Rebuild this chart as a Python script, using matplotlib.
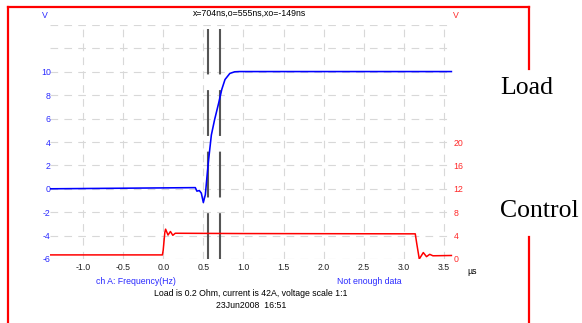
import numpy as np
import matplotlib as mpl
import matplotlib.pyplot as plt
from matplotlib.lines import Line2D

mpl.rcParams['font.family'] = ['Liberation Sans', 'DejaVu Sans']
mpl.rcParams['lines.scale_dashes'] = False

W, H = 582, 323

# load voltage (blue, left axis) - time in us, value in V
t_load = [-1.41, 0.40, 0.42, 0.45, 0.475, 0.50, 0.525, 0.55, 0.566, 0.60,
          0.64, 0.69, 0.73, 0.77, 0.83, 0.89, 0.95, 3.59]
v_load = [0.0, 0.1, -0.2, -0.15, -0.37, -1.17, -0.5, 1.37, 2.5, 4.6,
          5.9, 7.3, 8.5, 9.34, 9.86, 10.0, 10.02, 10.02]

# control voltage (red, right axis)
t_ctrl = [-1.41, -0.01, 0.0, 0.02, 0.03, 0.06, 0.09, 0.12, 0.15, 1.0,
          3.14, 3.16, 3.19, 3.24, 3.28, 3.32, 3.36, 3.59]
v_ctrl = [0.7, 0.7, 1.5, 4.5, 5.1, 4.1, 4.7, 4.05, 4.4, 4.35,
          4.3, 2.5, 0.0, 1.1, 0.4, 0.8, 0.55, 0.6]

cursors = [0.555, 0.704]

x_ticks = [-1.0, -0.5, 0.0, 0.5, 1.0, 1.5, 2.0, 2.5, 3.0, 3.5]
left_ticks = [-6, -4, -2, 0, 2, 4, 6, 8, 10, 12, 14]
left_labels = ['-6', '-4', '-2', '0', '2', '4', '6', '8', '10', '', '']
right_ticks = [0, 4, 8, 12, 16, 20]

blue = '#0000ff'
red = '#ff0000'
fs = 6.3

fig = plt.figure(figsize=(W / 100, H / 100), dpi=100)

def fx(x):
    return x / W

def fy(y):
    return 1 - y / H

ax = fig.add_axes([fx(50), fy(259), 403 / W, 234 / H])
ax.set_xlim(-1.41, 3.61)
ax.set_ylim(-6, 14)
ax.set_xticks(x_ticks)
ax.set_xticklabels(['%.1f' % v for v in x_ticks])
ax.set_yticks(left_ticks)
ax.set_yticklabels(left_labels)
ax.tick_params(axis='x', length=0, pad=3, labelsize=fs, labelcolor='#202020')
ax.tick_params(axis='y', length=0, pad=-0.5, labelsize=fs, labelcolor='#2a2aff')
ax.grid(True, color='#d8d8d8', linewidth=0.8, dashes=(5.5, 4.5))
for s in ax.spines.values():
    s.set_visible(False)

for c in cursors:
    ax.axvline(c, ymin=0, ymax=0.983, color='#555555', linewidth=1.5,
               dashes=(33, 11.3), zorder=3)

ax.plot(t_load, v_load, color=blue, linewidth=1.15, zorder=4)

ax2 = ax.twinx()
ax2.set_ylim(0, 40)
ax2.set_yticks(right_ticks)
ax2.set_yticklabels([str(v) for v in right_ticks])
ax2.tick_params(axis='y', length=0, pad=0.5, labelsize=fs, labelcolor='#ff2a2a')
for s in ax2.spines.values():
    s.set_visible(False)
ax2.plot(t_ctrl, v_ctrl, color=red, linewidth=1.1, zorder=4)

# texts around the plot
fig.text(fx(45), fy(15), 'V', color='#2a2aff', fontsize=fs, ha='center', va='center')
fig.text(fx(456), fy(15), 'V', color='#ff2a2a', fontsize=fs, ha='center', va='center')
fig.text(fx(250), fy(13), 'x=704ns,o=555ns,xo=-149ns', fontsize=fs, ha='center', va='center')
fig.text(fx(472), fy(271), 'µs', fontsize=fs, ha='center', va='center')
fig.text(fx(135.5), fy(282), 'ch A: Frequency(Hz)', color='#2a2aff', fontsize=fs,
         ha='center', va='center')
fig.text(fx(369), fy(282), 'Not enough data', color='#2a2aff', fontsize=fs,
         ha='center', va='center')
fig.text(fx(251), fy(294), 'Load is 0.2 Ohm, current is 42A, voltage scale 1:1',
         fontsize=fs, ha='center', va='center')
fig.text(fx(251), fy(305.5), '23Jun2008  16:51', fontsize=fs, ha='center', va='center')

fig.text(fx(500), fy(94), 'Load', fontsize=18.5, family='Liberation Serif',
         ha='left', va='baseline')
fig.text(fx(500), fy(217), 'Control', fontsize=18.5, family='Liberation Serif',
         ha='left', va='baseline')

# red frame
frame = [([8, 529], [7, 7]), ([8, 8], [7, 330]), ([529, 529], [7, 69]),
         ([529, 529], [237, 330])]
for xs, ys in frame:
    fig.add_artist(Line2D([fx(v) for v in xs], [fy(v) for v in ys],
                          color=red, linewidth=1.6, transform=fig.transFigure))

fig.savefig('out.png', dpi=100)
